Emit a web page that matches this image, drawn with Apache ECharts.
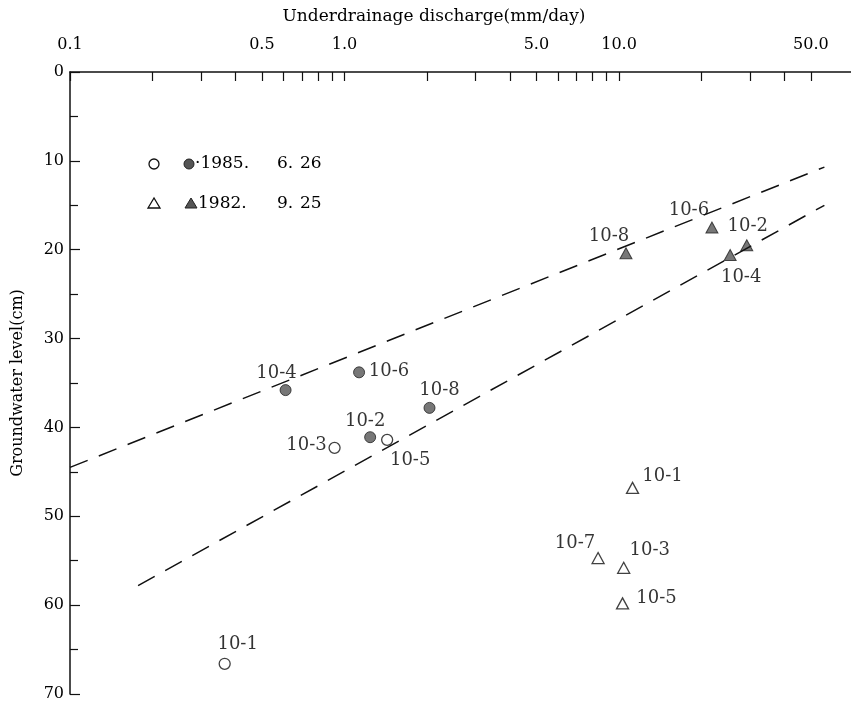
<!DOCTYPE html>
<html>
<head>
<meta charset="utf-8">
<script src="https://cdn.jsdelivr.net/npm/echarts@6/dist/echarts.min.js"></script>
<style>html,body{margin:0;padding:0;background:#fff}#c{width:851px;height:704px}</style>
</head>
<body>
<div id="c"></div>
<script>
// ---- data ----
const xTickValues = [0.1,0.2,0.3,0.4,0.5,0.6,0.7,0.8,0.9,1,2,3,4,5,6,7,8,9,10,20,30,40,50];
const xLabelValues = [0.1,0.5,1,5,10,50];
const yTickLabels = [0,10,20,30,40,50,60,70];

const openCircleNames = ['10-1','10-3','10-5'];
const openCircleX = [0.366, 0.92, 1.43];
const openCircleY = [66.6, 42.3, 41.4];

const filledCircleNames = ['10-2','10-4','10-6','10-8'];
const filledCircleX = [1.24, 0.61, 1.13, 2.04];
const filledCircleY = [41.1, 35.8, 33.8, 37.8];

const openTriNames = ['10-1','10-3','10-5','10-7'];
const openTriX = [11.2, 10.4, 10.3, 8.39];
const openTriY = [46.8, 55.8, 59.8, 54.7];

const filledTriNames = ['10-2','10-4','10-6','10-8'];
const filledTriX = [29.2, 25.4, 21.8, 10.6];
const filledTriY = [19.5, 20.6, 17.5, 20.4];

const upperLineX = [0.1, 56];
const upperLineY = [44.5, 10.7];
const lowerLineX = [0.177, 56];
const lowerLineY = [57.8, 15.0];

const legendDates = [['·1985.', '6.', '26'], ['1982.', '9.', '25']];

// ---- label offsets (styling) ----
const openCircleOff = [[13,-19],[-28,-3],[23,20]];
const filledCircleOff = [[-5,-16],[-9,-17],[30,-1],[10,-18]];
const openTriOff = [[30,-12],[26,-17],[34,-5],[-23,-15]];
const filledTriOff = [[1,-19],[11,22],[-23,-17],[-17,-17]];

const FONT = 'DejaVu Serif';

function pts(names, xs, ys, offs) {
  return names.map((n, i) => ({
    name: n, value: [xs[i], ys[i]],
    label: { show: true, position: 'inside', offset: offs[i], formatter: n,
             color: '#000', textBorderWidth: 0, fontFamily: FONT, fontSize: 18 }
  }));
}
function linePts(xs, ys) { return xs.map((x, i) => [x, ys[i]]); }

const chart = echarts.init(document.getElementById('c'), null, {renderer: 'canvas'});
const dash = { color: '#111', width: 1.5, type: [19, 12] };
const lgFont = '17px "DejaVu Serif"';

chart.setOption({
  animation: false,
  backgroundColor: '#fff',
  grid: { left: 70, right: 0, top: 72, bottom: 10, containLabel: false },
  xAxis: {
    type: 'log', position: 'top', min: 0.1, max: 70, logBase: 10,
    axisLine: { show: true, lineStyle: { color: '#111', width: 1.5 } },
    axisTick: { show: true, inside: true, length: 9, customValues: xTickValues,
                lineStyle: { color: '#111', width: 1.2 } },
    axisLabel: { show: true, customValues: xLabelValues, margin: 19,
                 color: '#000', fontFamily: FONT, fontSize: 16,
                 formatter: v => Number(v).toFixed(1) },
    splitLine: { show: false }, minorTick: { show: false }, minorSplitLine: { show: false }
  },
  yAxis: {
    type: 'value', inverse: true, min: 0, max: 70, interval: 10,
    axisLine: { show: true, onZero: false, lineStyle: { color: '#111', width: 1.5 } },
    axisTick: { show: true, inside: true, length: 10, lineStyle: { color: '#111', width: 1.2 } },
    minorTick: { show: true, splitNumber: 2, length: 8, lineStyle: { color: '#111', width: 1.2 } },
    axisLabel: { color: '#000', fontFamily: FONT, fontSize: 16, margin: 6 },
    splitLine: { show: false }, minorSplitLine: { show: false },
    name: 'Groundwater level(cm)', nameLocation: 'middle', nameGap: 44, nameRotate: 90,
    nameTextStyle: { color: '#000', fontFamily: FONT, fontSize: 16 }
  },
  graphic: [
    { type: 'text', style: { text: 'Underdrainage discharge(mm/day)', x: 434, y: 17,
      align: 'center', verticalAlign: 'middle', fill: '#000', font: lgFont } },
    { type: 'circle', shape: { cx: 154, cy: 164, r: 5 }, style: { fill: '#fff', stroke: '#111', lineWidth: 1.3 } },
    { type: 'circle', shape: { cx: 189, cy: 164, r: 5 }, style: { fill: '#555', stroke: '#222', lineWidth: 1 } },
    { type: 'text', style: { text: legendDates[0][0], x: 195, y: 164, verticalAlign: 'middle', fill: '#000', font: lgFont } },
    { type: 'text', style: { text: legendDates[0][1], x: 277, y: 164, verticalAlign: 'middle', fill: '#000', font: lgFont } },
    { type: 'text', style: { text: legendDates[0][2], x: 300, y: 164, verticalAlign: 'middle', fill: '#000', font: lgFont } },
    { type: 'polygon', shape: { points: [[154,198],[148,208],[160,208]] }, style: { fill: '#fff', stroke: '#111', lineWidth: 1.3 } },
    { type: 'polygon', shape: { points: [[191,198],[185,208],[197,208]] }, style: { fill: '#555', stroke: '#222', lineWidth: 1 } },
    { type: 'text', style: { text: legendDates[1][0], x: 198, y: 204, verticalAlign: 'middle', fill: '#000', font: lgFont } },
    { type: 'text', style: { text: legendDates[1][1], x: 277, y: 204, verticalAlign: 'middle', fill: '#000', font: lgFont } },
    { type: 'text', style: { text: legendDates[1][2], x: 300, y: 204, verticalAlign: 'middle', fill: '#000', font: lgFont } }
  ],
  series: [
    { type: 'line', data: linePts(upperLineX, upperLineY), symbol: 'none', lineStyle: dash, silent: true },
    { type: 'line', data: linePts(lowerLineX, lowerLineY), symbol: 'none', lineStyle: dash, silent: true },
    { type: 'scatter', symbol: 'circle', symbolSize: 11,
      itemStyle: { color: '#fff', borderColor: '#111', borderWidth: 1.3 },
      data: pts(openCircleNames, openCircleX, openCircleY, openCircleOff) },
    { type: 'scatter', symbol: 'circle', symbolSize: 11,
      itemStyle: { color: '#555', borderColor: '#222', borderWidth: 1 },
      data: pts(filledCircleNames, filledCircleX, filledCircleY, filledCircleOff) },
    { type: 'scatter', symbol: 'triangle', symbolSize: [12, 11],
      itemStyle: { color: '#fff', borderColor: '#111', borderWidth: 1.3 },
      data: pts(openTriNames, openTriX, openTriY, openTriOff) },
    { type: 'scatter', symbol: 'triangle', symbolSize: [12, 11],
      itemStyle: { color: '#555', borderColor: '#222', borderWidth: 1 },
      data: pts(filledTriNames, filledTriX, filledTriY, filledTriOff) }
  ]
});
</script>
</body>
</html>
